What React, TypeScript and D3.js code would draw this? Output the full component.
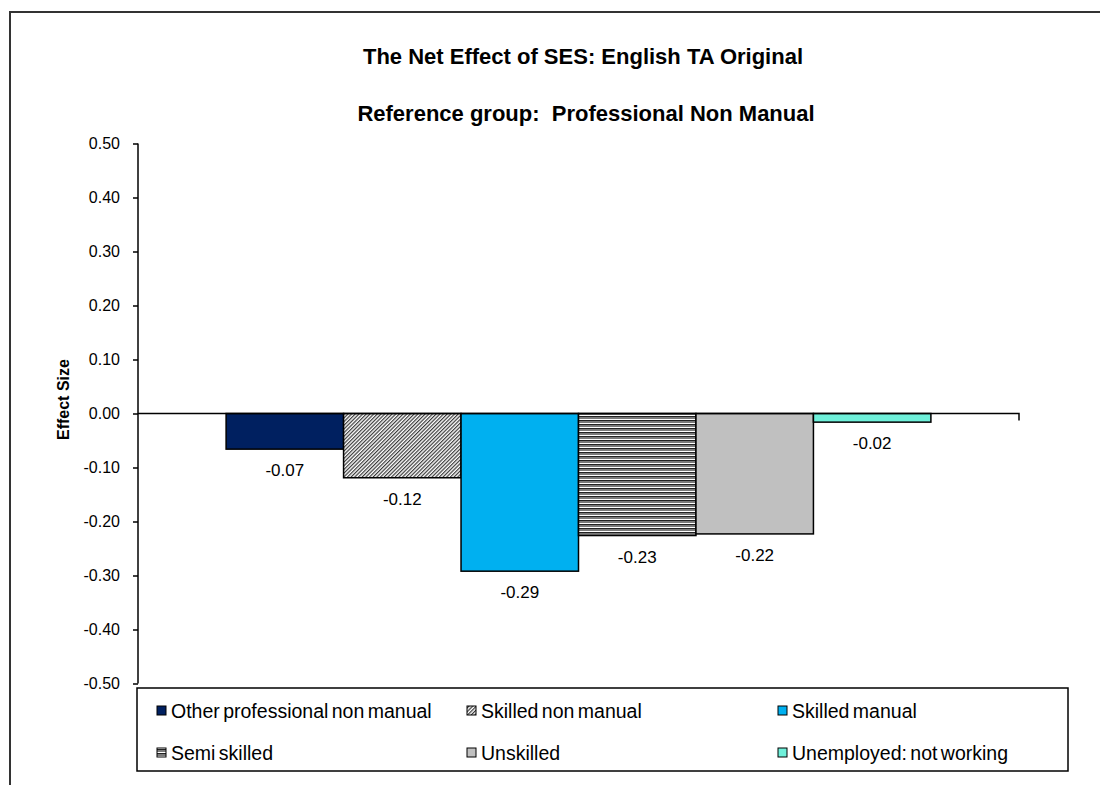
import React, { useEffect, useRef } from "react";
import * as d3 from "d3";

const categories = [
  "Other professional non manual",
  "Skilled non manual",
  "Skilled manual",
  "Semi skilled",
  "Unskilled",
  "Unemployed: not working",
];
const effectSizes = [-0.066, -0.119, -0.292, -0.226, -0.223, -0.016];
const fills = ["#002060", "url(#diag)", "#00B0F0", "url(#horiz)", "#C0C0C0", "#6FF0DA"];
const yTicks = [0.5, 0.4, 0.3, 0.2, 0.1, 0, -0.1, -0.2, -0.3, -0.4, -0.5];
const title1 = "The Net Effect of SES: English TA Original";
const title2 = "Reference group:  Professional Non Manual";

const FONT = "'Liberation Sans', Arial, Helvetica, sans-serif";

export default function App() {
  const ref = useRef<SVGSVGElement>(null);

  useEffect(() => {
    const svg = d3.select(ref.current);
    svg.selectAll("*").remove();

    var width = 1100,
      height = 785;
    var plot = { left: 138, right: 1019, top: 143.5, bottom: 683.5 };

    // patterns for the hatched bars
    var defs = svg.append("defs");
    var diag = defs
      .append("pattern")
      .attr("id", "diag")
      .attr("patternUnits", "userSpaceOnUse")
      .attr("width", 2.6)
      .attr("height", 2.6)
      .attr("patternTransform", "rotate(-45)");
    diag.append("rect").attr("width", 2.6).attr("height", 2.6).attr("fill", "#ffffff");
    diag.append("rect").attr("width", 2.6).attr("height", 1.2).attr("fill", "#3a3a3a");

    var horiz = defs
      .append("pattern")
      .attr("id", "horiz")
      .attr("patternUnits", "userSpaceOnUse")
      .attr("width", 4)
      .attr("height", 4);
    horiz.append("rect").attr("width", 4).attr("height", 4).attr("fill", "#ffffff");
    horiz.append("rect").attr("y", 0).attr("width", 4).attr("height", 1).attr("fill", "#222");
    horiz.append("rect").attr("y", 1).attr("width", 4).attr("height", 2).attr("fill", "#7a7a7a");

    svg.append("rect").attr("width", width).attr("height", height).attr("fill", "#fff");

    // outer frame (runs off the page right and bottom)
    svg
      .append("rect")
      .attr("x", 10)
      .attr("y", 12)
      .attr("width", 1200)
      .attr("height", 1000)
      .attr("fill", "none")
      .attr("stroke", "#333")
      .attr("stroke-width", 2);

    // titles
    svg
      .append("text")
      .text(title1)
      .attr("x", 583)
      .attr("y", 64)
      .attr("text-anchor", "middle")
      .style("font-family", FONT)
      .style("font-size", "22px")
      .style("font-weight", "bold");
    svg
      .append("text")
      .text(title2)
      .attr("x", 586)
      .attr("y", 121)
      .attr("text-anchor", "middle")
      .style("font-family", FONT)
      .style("font-size", "22px")
      .style("font-weight", "bold")
      .style("white-space", "pre");

    var y = d3.scaleLinear().domain([-0.5, 0.5]).range([plot.bottom, plot.top]);
    var x = d3
      .scaleBand()
      .domain(categories)
      .range([plot.left, plot.right])
      .paddingInner(0)
      .paddingOuter(0.75);

    // bars
    var bars = svg.append("g");
    bars
      .selectAll("rect")
      .data(categories)
      .enter()
      .append("rect")
      .attr("x", (d) => x(d)!)
      .attr("width", x.bandwidth())
      .attr("y", (d, i) => Math.min(y(0), y(effectSizes[i])))
      .attr("height", (d, i) => Math.abs(y(effectSizes[i]) - y(0)))
      .attr("fill", (d, i) => fills[i])
      .attr("stroke", "#000")
      .attr("stroke-width", 1.5);

    // value labels
    bars
      .selectAll("text")
      .data(categories)
      .enter()
      .append("text")
      .text((d, i) => effectSizes[i].toFixed(2))
      .attr("x", (d) => x(d)! + x.bandwidth() / 2)
      .attr("y", (d, i) => y(effectSizes[i]) + 27)
      .attr("text-anchor", "middle")
      .style("font-family", FONT)
      .style("font-size", "17px");

    // y axis
    var yAxis = svg
      .append("g")
      .attr("transform", "translate(" + plot.left + ",0)")
      .call(
        d3
          .axisLeft(y)
          .tickValues(yTicks)
          .tickSize(5)
          .tickPadding(13)
          .tickFormat((d) => (d as number).toFixed(2))
      );
    yAxis.select(".domain").attr("stroke", "#000").attr("stroke-width", 1.5).attr("d", "M0," + plot.top + "V" + plot.bottom);
    yAxis.selectAll(".tick line").attr("stroke", "#000").attr("stroke-width", 1.5);
    yAxis
      .selectAll(".tick text")
      .attr("fill", "#000")
      .style("font-family", FONT)
      .style("font-size", "16px");

    // x axis at zero
    svg
      .append("path")
      .attr(
        "d",
        "M" + plot.left + "," + y(0) + "H" + plot.right + "V" + (y(0) + 7)
      )
      .attr("fill", "none")
      .attr("stroke", "#000")
      .attr("stroke-width", 1.5);

    // y axis title
    svg
      .append("text")
      .text("Effect Size")
      .attr("transform", "translate(69,440) rotate(-90)")
      .attr("text-anchor", "start")
      .style("font-family", FONT)
      .style("font-size", "16px")
      .style("font-weight", "bold");

    // legend
    var legend = svg.append("g");
    legend
      .append("rect")
      .attr("x", 137)
      .attr("y", 688)
      .attr("width", 931)
      .attr("height", 83)
      .attr("fill", "#fff")
      .attr("stroke", "#000")
      .attr("stroke-width", 1.5);

    var colX = [157, 467, 778];
    var rowY = [711, 753];
    var item = legend
      .selectAll("g.item")
      .data(categories)
      .enter()
      .append("g")
      .attr("class", "item")
      .attr("transform", (d, i) => "translate(" + colX[i % 3] + "," + rowY[Math.floor(i / 3)] + ")");
    item
      .append("rect")
      .attr("x", 0)
      .attr("y", -5)
      .attr("width", 9)
      .attr("height", 9)
      .attr("fill", (d, i) => fills[i])
      .attr("stroke", "#000")
      .attr("stroke-width", 1);
    item
      .append("text")
      .text((d) => d)
      .attr("x", 14)
      .attr("y", 7)
      .style("font-family", FONT)
      .style("font-size", "19.5px")
      .style("word-spacing", "-2px");
  }, []);

  return (
    <svg
      ref={ref}
      width={1100}
      height={785}
      style={{ position: "absolute", left: 0, top: 0, display: "block" }}
    />
  );
}
